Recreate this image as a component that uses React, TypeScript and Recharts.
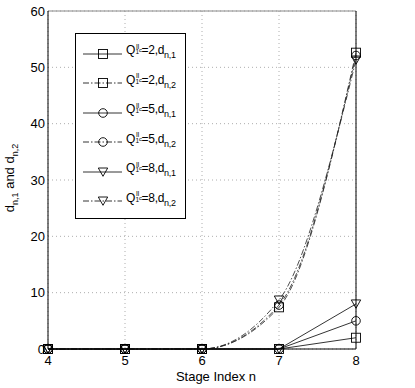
import { CartesianGrid, Legend, Line, LineChart, ReferenceLine, XAxis, YAxis } from "recharts"

const stages = [4, 5, 6, 7, 8]
const q2D1 = [0, 0, 0, 0, 2]
const q2D2 = [0, 0, 0, 7.4, 52.6]
const q5D1 = [0, 0, 0, 0, 5]
const q5D2 = [0, 0, 0, 7.8, 52.1]
const q8D1 = [0, 0, 0, 0, 8]
const q8D2 = [0, 0, 0, 8.7, 51.3]

const xTicks = [4, 5, 6, 7, 8]
const yTicks = [0, 10, 20, 30, 40, 50, 60]

const FONT = "'Liberation Sans', Arial, sans-serif"
const DASH = "6 2 1.5 2"

type Shape = "square" | "circle" | "triangle"

interface Series {
  key: string
  values: number[]
  q: number
  idx: string
  shape: Shape
  dashed: boolean
}

const series: Series[] = [
  { key: "q2d1", values: q2D1, q: 2, idx: "1", shape: "square", dashed: false },
  { key: "q2d2", values: q2D2, q: 2, idx: "2", shape: "square", dashed: true },
  { key: "q5d1", values: q5D1, q: 5, idx: "1", shape: "circle", dashed: false },
  { key: "q5d2", values: q5D2, q: 5, idx: "2", shape: "circle", dashed: true },
  { key: "q8d1", values: q8D1, q: 8, idx: "1", shape: "triangle", dashed: false },
  { key: "q8d2", values: q8D2, q: 8, idx: "2", shape: "triangle", dashed: true },
]

const data = stages.map((n, i) => {
  const row: Record<string, number> = { n }
  series.forEach((s) => {
    row[s.key] = s.values[i]
  })
  return row
})

function Marker({ shape, cx, cy, stroke }: { shape: Shape; cx?: number; cy?: number; stroke: string }) {
  if (cx == null || cy == null) return null
  if (shape === "square")
    return <rect x={cx - 4.5} y={cy - 4.5} width={9} height={9} fill="none" stroke={stroke} strokeWidth={0.9} />
  if (shape === "circle") return <circle cx={cx} cy={cy} r={4.3} fill="none" stroke={stroke} strokeWidth={0.9} />
  return (
    <path
      d={`M${cx - 4.7},${cy - 4} L${cx + 4.7},${cy - 4} L${cx},${cy + 4.3} Z`}
      fill="none"
      stroke={stroke}
      strokeWidth={0.9}
    />
  )
}

// legend is drawn by hand because of the Q^II_1c label
function LegendBox() {
  return (
    <div
      style={{
        width: 111,
        height: 186,
        border: "1px solid #000",
        background: "#fff",
        boxSizing: "border-box",
        paddingTop: 3,
        fontFamily: FONT,
        fontSize: 12,
        color: "#000",
      }}
    >
      {series.map((s) => (
        <div key={s.key} style={{ height: 29.5, display: "flex", alignItems: "center" }}>
          <svg width={50} height={16} style={{ display: "block" }}>
            <line
              x1={7}
              x2={46}
              y1={10}
              y2={10}
              stroke="#000"
              strokeWidth={0.8}
              strokeDasharray={s.dashed ? DASH : undefined}
            />
            <Marker shape={s.shape} cx={27} cy={10} stroke="#000" />
          </svg>
          <span style={{ whiteSpace: "nowrap", letterSpacing: -0.3 }}>
            Q
            <span style={{ position: "relative", display: "inline-block", width: 6.5, height: 0 }}>
              <span style={{ position: "absolute", left: 1, bottom: 4.5, fontSize: 6.5, lineHeight: "6px" }}>II</span>
              <span style={{ position: "absolute", left: 0.5, bottom: -1, fontSize: 6.5, lineHeight: "6px" }}>1</span>
              <span style={{ position: "absolute", left: 4, bottom: 1, fontSize: 6, lineHeight: "6px" }}>c</span>
            </span>
            ={s.q},d
            <span style={{ fontSize: 9, verticalAlign: -4 }}>n,{s.idx}</span>
          </span>
        </div>
      ))}
    </div>
  )
}

function YLabel({ viewBox }: { viewBox?: { x: number; y: number; width: number; height: number } }) {
  if (!viewBox) return null
  const cx = viewBox.x + 14
  const cy = viewBox.y + viewBox.height / 2 - 2
  return (
    <text
      x={cx}
      y={cy}
      transform={`rotate(-90, ${cx}, ${cy})`}
      textAnchor="middle"
      fontFamily={FONT}
      fontSize={13}
      fill="#000"
    >
      d
      <tspan fontSize={9} dy={4}>
        n,1
      </tspan>
      <tspan dy={-4}> and d</tspan>
      <tspan fontSize={9} dy={4}>
        n,2
      </tspan>
    </text>
  )
}

export default function App() {
  return (
    <div style={{ position: "absolute", left: 0, top: 0, background: "#fff" }}>
      <LineChart
        width={415}
        height={388}
        data={data}
        margin={{ top: 11, right: 59, bottom: 0, left: 0 }}
        style={{ fontFamily: FONT }}
      >
        <CartesianGrid stroke="#999" strokeDasharray="1 3" strokeWidth={0.8} />
        <XAxis
          dataKey="n"
          type="number"
          domain={[4, 8]}
          ticks={xTicks}
          height={39}
          tickLine={false}
          tickSize={4}
          tickMargin={3}
          axisLine={{ stroke: "#000" }}
          tick={{ fill: "#000", fontSize: 13 }}
          label={{ value: "Stage Index n", position: "insideBottom", offset: 7, dx: 14, fill: "#000", fontSize: 13 }}
        />
        <YAxis
          type="number"
          domain={[0, 60]}
          ticks={yTicks}
          width={48}
          tickLine={false}
          tickSize={1}
          tickMargin={2}
          axisLine={{ stroke: "#000" }}
          tick={{ fill: "#000", fontSize: 13 }}
          label={<YLabel />}
        />
        <ReferenceLine y={60} stroke="#888" strokeWidth={1} />
        <ReferenceLine x={8} stroke="#000" strokeWidth={1} />
        <Legend
          layout="vertical"
          align="center"
          verticalAlign="middle"
          content={<LegendBox />}
          wrapperStyle={{ position: "absolute", left: 75, top: 33, width: 111, height: 186 }}
        />
        {series.map((s) => (
          <Line
            key={s.key}
            dataKey={s.key}
            type={s.dashed ? "monotone" : "linear"}
            stroke={s.dashed ? "#222" : "#000"}
            strokeWidth={0.8}
            strokeDasharray={s.dashed ? DASH : undefined}
            isAnimationActive={false}
            dot={(p: { cx?: number; cy?: number; index?: number }) => (
              <Marker key={`${s.key}-${p.index}`} shape={s.shape} cx={p.cx} cy={p.cy} stroke="#000" />
            )}
            activeDot={false}
          />
        ))}
      </LineChart>
    </div>
  )
}
